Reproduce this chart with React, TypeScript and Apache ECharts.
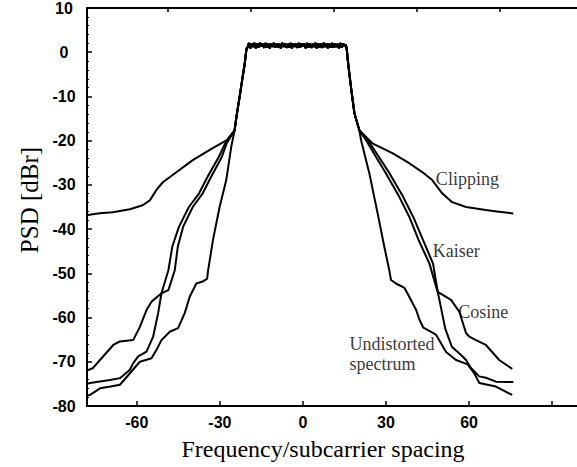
import React, { useEffect, useRef } from "react";
import * as echarts from "echarts";

// ---- axes ----
const xMin = -78;
const xMax = 99;
const yMin = -80;
const yMax = 10;
const yStep = 10;
const xLabelValues = [-60, -30, 0, 30, 60];
const xTickValues = [-60, -30, 0, 30, 60, 90];
const topTickValues = [-49, -19, 11, 41, 71];

// ---- in-band part shared by all spectra ----
const edgeLeft = [[-24.7, -17.7], [-24, -14.5], [-22.9, -10.2], [-22, -6.5], [-21, -2.5], [-20.6, -0.2], [-20.3, 0.9]];
const bandStart = -20;
const bandStep = 0.5;
const bandTop = [
  1.1, 2.1, 0.9, 2.0, 1.2, 2.1, 0.9, 2.0, 1.1, 2.1, 1.3, 1.9,
  1.0, 2.1, 1.1, 2.0, 0.9, 1.9, 1.2, 2.1, 1.0, 2.0, 1.1, 1.9,
  0.9, 2.1, 1.2, 2.0, 1.0, 1.9, 1.1, 2.1, 0.9, 2.0, 1.2, 1.9,
  1.0, 2.1, 1.1, 2.0, 1.3, 1.9, 0.9, 2.1, 1.1, 2.0, 1.0, 1.9,
  1.2, 2.1, 0.9, 2.0, 1.1, 1.9, 1.0, 2.1, 1.2, 2.0, 0.9, 1.9,
  1.1, 2.1, 1.0, 2.0, 1.2, 1.9, 0.9, 2.1, 1.1, 2.0, 1.3, 1.7,
];
const edgeRight = [[15.8, 0.8], [16.0, -0.3], [16.1, -1.2], [16.8, -5], [17.5, -8.6], [18.6, -13.8], [20.4, -17.7]];

// ---- out-of-band tails ----
const clipLeft = [[-78, -36.8], [-77.7, -36.8], [-73.4, -36.4], [-68.7, -36.2], [-62.5, -35.5], [-57.9, -34.6], [-55.3, -33.5], [-53, -31.2], [-50.6, -29.4], [-45.6, -27.1], [-39.8, -24.4], [-32.6, -21.7], [-27.5, -19.9]];
const clipRight = [[25.1, -20.6], [32.3, -22.8], [38.4, -25.1], [43.1, -27.1], [46.7, -28.9], [50.3, -31.9], [53.9, -33.9], [58.9, -35.0], [66.1, -35.7], [70, -36.0], [75.2, -36.4], [76, -36.5]];

const kaiserLeft = [[-78, -75], [-76.9, -74.8], [-69.7, -74.1], [-66.1, -73.7], [-62.5, -71.8], [-61.3, -70.3], [-59.5, -68.8], [-56.5, -67.7], [-54.1, -64.3], [-52.3, -59.0], [-51.1, -54.5], [-48.6, -49.3], [-47.2, -44], [-44.8, -39.5], [-41.2, -35], [-37.5, -31.9], [-34.5, -28.2], [-30.4, -23.7], [-28, -20.5]];
const kaiserRight = [[23.5, -19.9], [31.3, -27.4], [36.2, -32.7], [39.8, -37.2], [43.4, -42.5], [47.0, -47.8], [48.7, -54.2], [49.3, -56], [51.4, -62.5], [53.8, -66.6], [57.7, -68.8], [58.9, -69.6], [60.7, -71.4], [63.7, -73.3], [66.1, -73.6], [69.7, -74.5], [76, -74.6]];

const cosineLeft = [[-78, -72], [-75.8, -71.4], [-72.2, -68.8], [-68.5, -66.2], [-66.1, -65.4], [-61.3, -65.1], [-58.9, -62.1], [-56.5, -58.3], [-54.7, -56.4], [-51.1, -54.5], [-48.6, -53.8], [-46.3, -49.3], [-45.2, -44], [-43.3, -39.5], [-39.8, -35], [-36.2, -31.9], [-33.2, -28.2], [-29.3, -23.7], [-27.5, -20.5]];
const cosineRight = [[22.8, -19.9], [30.0, -27.4], [34.8, -32.7], [38.4, -37.2], [41.8, -42.5], [45.7, -47.8], [48.1, -53.0], [48.7, -54.2], [53.5, -56.0], [56.5, -58.7], [58.9, -63.5], [60.1, -64.3], [62.5, -65.1], [66.1, -66.2], [70.9, -69.6], [75.6, -71.6]];

const undistLeft = [[-78, -77.6], [-76.9, -77.5], [-73.3, -76.0], [-69.5, -75.6], [-66.1, -75.2], [-62.5, -72.6], [-58.9, -70.0], [-54.7, -69.2], [-52.9, -67.3], [-51.1, -65.1], [-48.1, -63.2], [-45.1, -62.4], [-42.7, -59.0], [-40.9, -55.3], [-38.5, -52.3], [-36, -51.8], [-34.6, -51.2], [-34.3, -49.5], [-32.5, -42.5], [-30.1, -35.0], [-27.7, -28.9], [-25.9, -21.4]];
const undistRight = [[21.0, -19.9], [24.0, -27.4], [27.0, -36.5], [29.4, -44.0], [31.2, -49.3], [31.8, -51.5], [33.6, -52.3], [36.7, -53.3], [38.4, -55.3], [40.9, -58.3], [42.1, -60.5], [43.5, -62.3], [46.8, -63.4], [48.1, -63.9], [51.7, -67.8], [55.3, -69.6], [59.5, -70.6], [61.9, -72.6], [63.7, -74.8], [69.7, -75.6], [75.6, -77.5]];

// ---- annotations (data coordinates) ----
const annotations = [
  { name: "Clipping", value: [59.4, -28.7], align: "center" },
  { name: "Kaiser", value: [55.4, -45.0], align: "center" },
  { name: "Cosine", value: [65.1, -58.7], align: "center" },
  { name: "Undistorted\nspectrum", value: [16.8, -68.2], align: "left" },
];

const SANS = "'Liberation Sans', Arial, Helvetica, sans-serif";
const SERIF = "'Liberation Serif', 'Times New Roman', Times, serif";

export default function App() {
  const ref = useRef<HTMLDivElement>(null);

  useEffect(() => {
    if (!ref.current) return;
    const chart = echarts.init(ref.current, null, { renderer: "svg" });

    const band = bandTop.map((v, i) => [bandStart + i * bandStep, v]);
    const core = [...edgeLeft, ...band, ...edgeRight];
    const build = (l: number[][], r: number[][]) => [...l, ...core, ...r];

    const lineSeries = (name: string, data: number[][]) => ({
      name,
      type: "line",
      data,
      showSymbol: false,
      symbol: "none",
      lineStyle: { color: "#000", width: 2 },
      xAxisIndex: 0,
      yAxisIndex: 0,
      silent: true,
      z: 3,
    });

    const axisLineStyle = { color: "#000", width: 2 };

    chart.setOption({
      animation: false,
      backgroundColor: "#fff",
      grid: { left: 87, right: 0, top: 7.5, bottom: 61 },
      xAxis: [
        {
          type: "value",
          position: "bottom",
          min: xMin,
          max: xMax,
          splitLine: { show: false },
          axisLine: { onZero: false, lineStyle: axisLineStyle },
          axisTick: { inside: true, length: 5, customValues: xTickValues, lineStyle: { color: "#000", width: 1.5 } },
          axisLabel: { customValues: xLabelValues, color: "#000", fontFamily: SANS, fontSize: 16, fontWeight: "bold", margin: 8 },
          name: "Frequency/subcarrier spacing",
          nameLocation: "middle",
          nameGap: 31,
          nameTextStyle: { color: "#000", fontFamily: SERIF, fontSize: 24, padding: [0, 18, 0, 0] },
        },
        {
          type: "value",
          position: "top",
          min: xMin,
          max: xMax,
          splitLine: { show: false },
          axisLine: { onZero: false, lineStyle: axisLineStyle },
          axisTick: { inside: true, length: 4, customValues: topTickValues, lineStyle: { color: "#000", width: 1.5 } },
          axisLabel: { show: false },
        },
      ],
      yAxis: [
        {
          type: "value",
          min: yMin,
          max: yMax,
          interval: yStep,
          splitLine: { show: false },
          axisLine: { onZero: false, lineStyle: axisLineStyle },
          axisTick: { inside: true, length: 5, lineStyle: { color: "#000", width: 1.5 } },
          minorTick: { show: true, splitNumber: 5, length: 2, lineStyle: { color: "#000", width: 1 } },
          axisLabel: { color: "#000", fontFamily: SANS, fontSize: 16, fontWeight: "bold", align: "center", margin: 23, padding: [4, 0, 0, 0] },
          name: "PSD [dBr]",
          nameLocation: "middle",
          nameGap: 44,
          nameRotate: 90,
          nameTextStyle: { color: "#000", fontFamily: SERIF, fontSize: 25, padding: [0, 0, 0, 14] },
        },
      ],
      series: [
        lineSeries("Clipping", build(clipLeft, clipRight)),
        lineSeries("Kaiser", build(kaiserLeft, kaiserRight)),
        lineSeries("Cosine", build(cosineLeft, cosineRight)),
        lineSeries("Undistorted spectrum", build(undistLeft, undistRight)),
        {
          type: "scatter",
          symbolSize: 0,
          silent: true,
          data: annotations.map((a) => ({
            name: a.name,
            value: a.value,
            label:
              a.align === "left"
                ? { position: "right", distance: 0, align: "left" }
                : { position: "inside", align: "center" },
          })),
          label: {
            show: true,
            formatter: "{b}",
            color: "#000",
            fontFamily: SERIF,
            fontSize: 18,
            lineHeight: 20,
          },
          z: 5,
        },
      ],
    });

    return () => chart.dispose();
  }, []);

  return <div ref={ref} style={{ position: "absolute", left: 0, top: 0, width: 577, height: 467 }} />;
}
